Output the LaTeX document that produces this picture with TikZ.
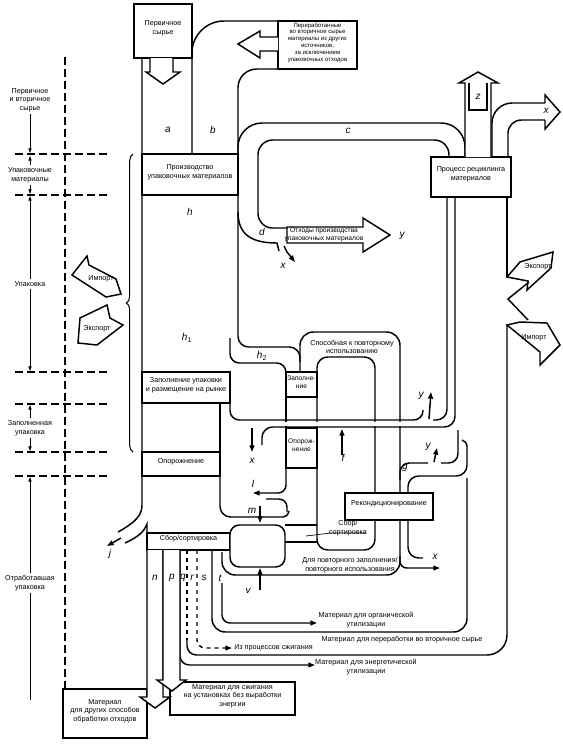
\documentclass[tikz,border=0pt]{standalone}
\usepackage{fontspec}
\setmainfont{Liberation Sans}
\usetikzlibrary{arrows.meta, fit, decorations.pathreplacing}

\begin{document}
\begin{tikzpicture}[x=0.75pt, y=-0.75pt,
    box/.style={draw, line width=1.1pt, fill=white, inner sep=0pt, align=center,
                font=\fontsize{5.4}{6.4}\selectfont},
    txt/.style={inner sep=0pt, align=center, font=\fontsize{5.4}{6.4}\selectfont},
    scl/.style={inner sep=1.5pt, align=center, font=\fontsize{5.4}{6.4}\selectfont},
    lbl/.style={inner sep=0pt, font=\fontsize{7.5}{8}\selectfont\itshape},
    wire/.style={line width=1.1pt},
    flow/.style={line width=1.1pt, rounded corners=#1},
    arr/.style={line width=1.1pt, -{Triangle[length=5pt, width=3.6pt]}},
    sarr/.style={line width=0.5pt, -{Triangle[length=3.5pt, width=2.4pt]}},
    scaledash/.style={line width=0.8pt, dash pattern=on 6pt off 3pt},
    tag/.style={line width=1.1pt, fill=white, line join=miter},
  ]
  \useasboundingbox (0,0) rectangle (562,744);

  % left scale
  \draw[scaledash] (65,57) -- (65,689);
  \foreach \yy in {154,195,372,404,452,476}
    \draw[scaledash] (15,\yy) -- (108,\yy);
  \node[scl] (sc1) at (30,100) {Первичное\\и вторичное\\сырье};
  \node[scl] (sc2) at (30,175) {Упаковочные\\материалы};
  \node[scl] (sc3) at (30,284) {Упаковка};
  \node[scl] (sc4) at (30,428) {Заполненная\\упаковка};
  \node[scl] (sc5) at (30,583) {Отработавшая\\упаковка};
  \draw[sarr] (sc1.south) -- (30,153);
  \draw[sarr] (sc2.north) -- (30,156);
  \draw[sarr] (sc2.south) -- (30,194);
  \draw[sarr] (sc3.north) -- (30,196);
  \draw[sarr] (sc3.south) -- (30,371);
  \draw[sarr] (sc4.north) -- (30,405);
  \draw[sarr] (sc4.south) -- (30,451);
  \draw[sarr] (sc5.north) -- (30,477);
  \draw[line width=0.5pt] (sc5.south) -- (30,700);
  \draw[line width=0.8pt, decorate, decoration={brace, amplitude=5pt}]
    (133,452) -- (133,154);

  % import / export, left
  \draw[tag] (72,275) -- (87,256) -- (89,265) -- (116,279) -- (121,294) -- (106,297) -- cycle;
  \node[txt] (impL) at (101,279) {Импорт};
  \draw[tag] (78,343) -- (80,318) -- (107,305) -- (110,318) -- (123,325) -- (97,345) -- cycle;
  \node[txt] (expL) at (97,329) {Экспорт};

  % column a, b
  \draw[wire] (142,58) -- (142,505) .. controls (142,515) and (136,522) .. (118,532);
  \draw[wire] (147,533) -- (147,524) .. controls (144,532) and (138,537) .. (125,543);
  \draw[arr] (121,538) -- (107,546);
  \draw[flow=24pt] (192,154) -- (192,21) -- (278,21);
  \draw[flow=14pt] (238,154) -- (238,69) -- (278,69);

  % c, d
  \draw[flow=18pt] (238,154) -- (238,123) -- (465,123) -- (465,157);
  \draw[flow=11pt] (287,228) -- (258,228) -- (258,140) -- (449,140) -- (449,157);
  \draw[wire] (238,212) .. controls (238,235) and (252,243) .. (277,243) -- (279,251);
  \draw[arr] (284,246) -- (287,252) -- (295,262);
  \draw[tag] (287,227) -- (363,227) -- (363,218) -- (390,235) -- (363,252) -- (363,243) -- (287,243) -- cycle;
  \node[txt, font=\fontsize{5}{5.8}\selectfont] (waste) at (324,235) {Отходы производства\\упаковочных материалов};

  % h, h2 and reusable loop
  \draw[flow=8pt] (238,195) -- (238,347) -- (300,347) -- (300,362);
  \draw[flow=7pt] (230,338) -- (230,363) -- (286,363) -- (286,375);
  \draw[flow=10pt] (300,372) -- (300,332) -- (400,332) -- (400,575) -- (222,575) -- (222,552);
  \draw[flow=8pt] (317,357) rectangle (375,550);
  \draw[arr, rounded corners=5pt] (400,556) -- (400,568) -- (440,568);
  \draw[wire] (286,397) -- (286,428);
  \draw[arr, rounded corners=6pt] (286,468) -- (286,493) -- (253,493);
  \draw[wire] (220,403) -- (220,452);

  % m, sorting
  \draw[flow=8pt] (220,476) -- (220,517) -- (283,517);
  \draw[wire] (283,517) .. controls (286,517) and (288,515) .. (289,511);
  \draw[flow=6pt] (266,499) -- (287,499) -- (287,512);
  \draw[arr] (260,506) -- (260,523);
  \draw[wire] (285,525) -- (317,525);
  \draw[wire] (285,542) -- (317,542);
  \draw[arr] (260,590) -- (260,568);

  % g and right lane
  \draw[flow=7pt] (400,480) -- (400,463) -- (428,463);
  \draw[arr] (434,462) -- (437,448);
  \draw[flow=7pt] (441,463) -- (458,463) -- (458,430);
  \draw[flow=8pt] (423,558) -- (408,558) -- (408,476) -- (467,476) -- (467,446);
  \draw[wire] (467,446) .. controls (467,443) and (465,441) .. (462,440);

  % horizontal band
  \fill[white] (232,421.5) rectangle (445,425.5);
  \draw[flow=7pt] (230,403) -- (230,420) -- (423,420) -- (423,410);
  \draw[flow=8pt] (262,445) -- (262,427) -- (455,427) -- (455,197);
  \draw[flow=8pt] (433,420) -- (447,420) -- (447,197);
  \draw[arr] (429,419) -- (431,392);
  \draw[arr] (252,428) -- (252,452);
  \draw[arr] (342,455) -- (342,429);

  % bottom outputs
  \draw[flow=10pt] (212,550) -- (212,632) -- (467,632) -- (467,478);
  \draw[arr, rounded corners=6pt] (222,583) -- (222,623) -- (317,623);
  \draw[arr, dashed, rounded corners=6pt] (197,550) -- (197,648) -- (232,648);
  \draw[wire, dashed] (187,550) -- (187,640);
  \draw[flow=7pt] (187,640) -- (187,655) -- (300,655);
  \draw[flow=15pt] (300,655) -- (507,655) -- (507,325);
  \draw[arr, rounded corners=7pt] (180,550) -- (180,665) -- (315,665);
  \draw[wire] (507,197) -- (507,277);

  % boxes
  \node[box, fit={(134,4) (192,58)}] (raw) {Первичное\\сырье};
  \node[box, fit={(278,21) (357,69)}, font=\fontsize{4.5}{5.2}\selectfont] (recyc)
    {Переработанные\\во вторичное сырье\\материалы из других\\источников,\\за исключением\\упаковочных отходов};
  \node[box, fit={(142,154) (238,195)}] (prod) {Производство\\упаковочных материалов};
  \node[box, fit={(431,157) (511,197)}] (proc) {Процесс рециклинга\\материалов};
  \node[box, fit={(142,372) (230,403)}] (fillbig) {Заполнение упаковки\\и размещение на рынке};
  \node[box, fit={(286,372) (317,397)}, font=\fontsize{5}{6}\selectfont] (fillsm) {Заполне-\\ние};
  \node[box, fit={(142,452) (220,476)}] (emptybig) {Опорожнение};
  \node[box, fit={(286,428) (317,468)}, font=\fontsize{5}{6}\selectfont] (emptysm) {Опорож-\\нение};
  \node[box, fit={(345,493) (433,520)}] (recond) {Рекондиционирование};
  \node[box, fit={(147,533) (230,550)}] (sort) {Сбор/сортировка};
  \node[box, rounded corners=7pt, fit={(230,525) (285,567)}] (sort2) {};
  \node[box, fit={(63,689) (147,738)}] (other) {Материал\\для других способов\\обработки отходов};
  \node[box, fit={(170,682) (295,715)}] (incbox) {Материал для сжигания\\на установках без выработки\\энергии};

  % block arrows
  \draw[tag] (150,58) -- (150,72) -- (146,72) -- (163,84) -- (180,72) -- (173,72) -- (173,58);
  \draw[tag] (278,37) -- (260,37) -- (260,31) -- (238,44) -- (260,58) -- (260,51) -- (278,51);
  \draw[tag] (147,550) -- (147,697) -- (140,697) -- (155,708) -- (170,697) -- (163,697) -- (163,550);
  \draw[tag] (163,550) -- (163,680) -- (157,680) -- (172,691) -- (186,680) -- (180,680) -- (180,550);
  \draw[tag] (465,157) -- (465,83) -- (459,83) -- (478,72) -- (498,83) -- (491,83) -- (491,157);
  \draw[wire] (469,83) -- (469,110) -- (487,110) -- (487,83);
  \draw[flow=15pt] (492,157) -- (492,103) -- (545,103);
  \draw[tag] (545,103) -- (545,95) -- (560,112) -- (545,129) -- (545,120);
  \draw[flow=10pt] (545,120) -- (508,120) -- (508,157);

  % import / export, right
  \draw[tag] (507,277) -- (520,262) -- (553,252) -- (551,268) -- (527,290) -- (528,281) -- cycle;
  \node[txt] (expR) at (538,267) {Экспорт};
  \draw[wire] (529,282) -- (508,299) -- (528,320);
  \draw[tag] (507,325) -- (520,322) -- (547,323) -- (560,345) -- (540,365) -- (540,352) -- cycle;
  \node[txt] (impR) at (534,338) {Импорт};

  % texts
  \node[txt] (reuse) at (352,347) {Способная к повторному\\использованию};
  \node[txt] (sortlbl) at (348,528) {Сбор/\\сортировка};
  \draw[line width=0.5pt] (306,536) -- (331,533) -- (366,533);
  \node[txt] (refill) at (350,565) {Для повторного заполнения/\\повторного использования};
  \node[txt] (organic) at (366,620) {Материал для органической\\утилизации};
  \node[txt] (recmat) at (402,640) {Материал для переработки во вторичное сырье};
  \node[txt, anchor=west] (incin) at (234,648) {Из процессов сжигания};
  \node[txt] (energy) at (366,667) {Материал для энергетической\\утилизации};

  % flow letters
  \node[lbl] (la) at (168,130) {a};
  \node[lbl] (lb) at (213,130) {b};
  \node[lbl] (lc) at (348,131) {c};
  \node[lbl] (ld) at (262,232) {d};
  \node[lbl] (lx1) at (283,266) {x};
  \node[lbl] (ly1) at (402,236) {y};
  \node[lbl] (lh) at (190,212) {h};
  \node[lbl] (lh1) at (187,338) {h\textsubscript{\upshape 1}};
  \node[lbl] (lh2) at (262,356) {h\textsubscript{\upshape 2}};
  \node[lbl] (lz) at (478,97) {z};
  \node[lbl] (lx0) at (546,111) {x};
  \node[lbl] (ly2) at (421,396) {y};
  \node[lbl] (lx2) at (252,461) {x};
  \node[lbl] (lf) at (343,458) {f};
  \node[lbl] (ly3) at (428,447) {y};
  \node[lbl] (lg) at (405,468) {g};
  \node[lbl] (ll) at (253,484) {l};
  \node[lbl] (lm) at (252,511) {m};
  \node[lbl] (lj) at (110,554) {j};
  \node[lbl] (lx3) at (435,557) {x};
  \node[lbl] (lv) at (248,591) {v};
  \node[lbl] (ln) at (155,578) {n};
  \node[lbl] (lp) at (172,578) {p};
  \node[lbl] (lq) at (183,578) {q};
  \node[lbl] (lr) at (192,578) {r};
  \node[lbl] (ls) at (204,578) {s};
  \node[lbl] (lt) at (220,578) {t};
\end{tikzpicture}
\end{document}
